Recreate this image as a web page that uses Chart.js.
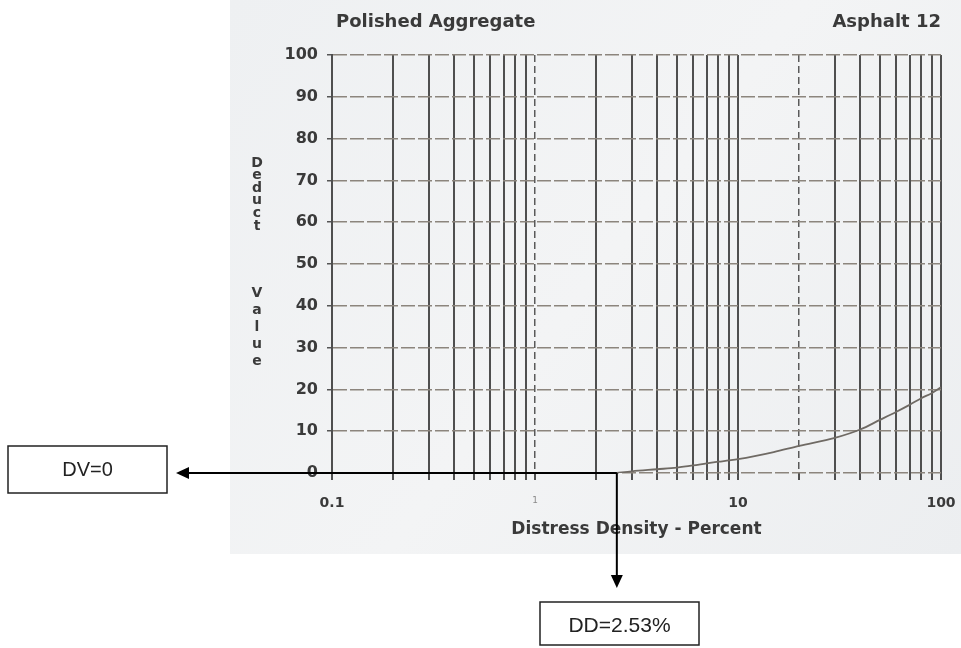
<!DOCTYPE html>
<html>
<head>
<meta charset="utf-8">
<script src="https://cdn.jsdelivr.net/npm/chart.js@4.4.1/dist/chart.umd.min.js"></script>
<style>
  html, body { margin: 0; padding: 0; background: #ffffff; }
  #wrap { width: 961px; height: 648px; position: relative; }
</style>
</head>
<body>
<div id="wrap"><canvas id="c" width="961" height="648"></canvas></div>
<script>
// Deduct-value curve: distress density (%) vs deduct value
const density = [2.53, 3, 4, 5, 6, 7, 8, 9, 10, 15, 20, 30, 40, 50, 60, 70, 80, 90, 100];
const deductValue = [0, 0.4, 0.9, 1.3, 1.8, 2.3, 2.7, 3.0, 3.3, 5.0, 6.5, 8.4, 10.4, 12.7, 14.6, 16.3, 17.9, 19.1, 20.5];

// Axis ticks
const xGridValues = [0.1, 0.2, 0.3, 0.4, 0.5, 0.6, 0.7, 0.8, 0.9,
                     1, 2, 3, 4, 5, 6, 7, 8, 9,
                     10, 20, 30, 40, 50, 60, 70, 80, 90, 100];
const xDashedValues = [1, 20];
const xTickLabels = ['0.1', '1', '10', '100'];
const yTickValues = [0, 10, 20, 30, 40, 50, 60, 70, 80, 90, 100];

// Reading taken from the curve
const ddReading = 2.53;
const dvReading = 0;

const chartTitle = 'Polished Aggregate';
const chartSubject = 'Asphalt 12';
const yTitleWords = ['Deduct', 'Value'];
const xTitle = 'Distress Density - Percent';

const INK = '#3a3a3a';
const BOLD = 'DejaVu Sans';
const GRID = '#4f4f4f';

// Paper sheet behind the chart
const paperPlugin = {
  id: 'paper',
  beforeDraw(chart) {
    const ctx = chart.ctx;
    ctx.save();
    const g = ctx.createLinearGradient(230, 0, 961, 554);
    g.addColorStop(0, '#eef0f2');
    g.addColorStop(0.5, '#f3f4f5');
    g.addColorStop(1, '#eceef0');
    ctx.fillStyle = g;
    ctx.fillRect(230, 0, 731, 554);
    ctx.restore();
  }
};

// Headings and the stacked y-axis caption
const headingPlugin = {
  id: 'headings',
  afterDraw(chart) {
    const ctx = chart.ctx;
    const area = chart.chartArea;
    ctx.save();
    ctx.fillStyle = INK;
    ctx.font = 'bold 18px "' + BOLD + '"';
    ctx.textBaseline = 'middle';
    ctx.textAlign = 'left';
    ctx.fillText(chartTitle, area.left + 4, 22);
    ctx.textAlign = 'right';
    ctx.fillText(chartSubject, area.right, 22);

    ctx.font = 'bold 14px "' + BOLD + '"';
    ctx.textAlign = 'center';
    const cx = 257;
    const starts = [163, 293];
    const steps = [12.6, 17.2];
    yTitleWords.forEach((w, wi) => {
      [...w].forEach((ch, i) => {
        ctx.fillText(ch, cx, starts[wi] + i * steps[wi]);
      });
    });
    ctx.restore();
  }
};

// Arrows from the curve reading to the value boxes
const readingPlugin = {
  id: 'reading',
  afterDraw(chart) {
    const ctx = chart.ctx;
    const px = chart.scales.x.getPixelForValue(ddReading);
    const py = chart.scales.y.getPixelForValue(dvReading);
    const dvBox = {l: 8, t: 446, w: 159, h: 47};
    const ddBox = {l: 540, t: 602, w: 159, h: 43};
    ctx.save();
    ctx.strokeStyle = '#000';
    ctx.fillStyle = '#000';
    ctx.lineWidth = 2;
    // horizontal arrow to DV box
    const tipX = dvBox.l + dvBox.w + 9;
    ctx.beginPath();
    ctx.moveTo(px, py);
    ctx.lineTo(tipX + 12, py);
    ctx.stroke();
    ctx.beginPath();
    ctx.moveTo(tipX, py);
    ctx.lineTo(tipX + 13, py - 6);
    ctx.lineTo(tipX + 13, py + 6);
    ctx.closePath();
    ctx.fill();
    // vertical arrow to DD box
    const tipY = ddBox.t - 14;
    ctx.beginPath();
    ctx.moveTo(px, py);
    ctx.lineTo(px, tipY - 12);
    ctx.stroke();
    ctx.beginPath();
    ctx.moveTo(px, tipY);
    ctx.lineTo(px - 6, tipY - 13);
    ctx.lineTo(px + 6, tipY - 13);
    ctx.closePath();
    ctx.fill();
    // boxes
    ctx.lineWidth = 1.5;
    ctx.strokeStyle = '#222';
    ctx.fillStyle = '#fff';
    [dvBox, ddBox].forEach(b => {
      ctx.fillRect(b.l, b.t, b.w, b.h);
      ctx.strokeRect(b.l, b.t, b.w, b.h);
    });
    ctx.fillStyle = '#222';
    ctx.font = '20px "Liberation Sans"';
    ctx.textAlign = 'center';
    ctx.textBaseline = 'middle';
    ctx.fillText('DV=' + dvReading, dvBox.l + dvBox.w / 2, dvBox.t + dvBox.h / 2 + 1);
    ctx.font = '21px "Liberation Sans"';
    ctx.fillText('DD=' + ddReading + '%', ddBox.l + ddBox.w / 2, ddBox.t + ddBox.h / 2 + 3);
    ctx.restore();
  }
};

const noSidePadding = scale => { scale.paddingLeft = 0; scale.paddingRight = 0; };

new Chart(document.getElementById('c'), {
  type: 'line',
  data: {
    datasets: [{
      data: density.map((d, i) => ({x: d, y: deductValue[i]})),
      borderColor: '#6f6a64',
      borderWidth: 1.8,
      pointRadius: 0,
      cubicInterpolationMode: 'monotone',
      fill: false
    }]
  },
  options: {
    responsive: false,
    animation: false,
    devicePixelRatio: 1,
    layout: { padding: { left: 230, right: 20, top: 55, bottom: 94 } },
    plugins: { legend: { display: false }, tooltip: { enabled: false } },
    scales: {
      x: {
        type: 'logarithmic',
        min: 0.1,
        max: 100,
        afterBuildTicks(scale) {
          scale.ticks = xGridValues.map(v => ({value: v}));
        },
        afterFit(scale) { scale.height = 81; noSidePadding(scale); },
        ticks: {
          autoSkip: false,
          maxRotation: 0,
          minRotation: 0,
          padding: 15,
          color: ctx => (ctx.tick && ctx.tick.value === 1) ? '#8a8a8a' : INK,
          font: ctx => (ctx.tick && ctx.tick.value === 1)
            ? {family: BOLD, size: 9, weight: 'normal'}
            : {family: BOLD, size: 14, weight: 'bold'},
          callback(value) {
            const label = xTickLabels.find(t => Math.abs(Number(t) - value) < 1e-9);
            return label === undefined ? '' : label;
          }
        },
        grid: {
          color: ctx => (ctx.tick && xDashedValues.includes(ctx.tick.value)) ? 'rgba(0,0,0,0)' : GRID,
          lineWidth: 2,
          tickLength: 7,
          tickColor: GRID,
          tickWidth: 2
        },
        border: { display: false },
        title: {
          display: true,
          text: xTitle,
          color: INK,
          font: {family: BOLD, size: 17, weight: 'bold'},
          padding: {top: 0, bottom: 14}
        }
      },
      // broken (dashed) rulings at 1 and 20
      xDash: {
        type: 'logarithmic',
        position: 'bottom',
        min: 0.1,
        max: 100,
        afterBuildTicks(scale) {
          scale.ticks = xDashedValues.map(v => ({value: v}));
        },
        afterFit(scale) { scale.height = 0; noSidePadding(scale); },
        ticks: { display: false },
        grid: { color: '#5a5a5a', lineWidth: 1.5, drawTicks: false },
        border: { display: false, dash: [7, 4] }
      },
      y: {
        min: 0,
        max: 100,
        afterBuildTicks(scale) {
          scale.ticks = yTickValues.map(v => ({value: v}));
        },
        afterFit(scale) { scale.width = 102; },
        ticks: {
          padding: 9,
          color: INK,
          font: {family: BOLD, size: 16, weight: 'bold'}
        },
        grid: {
          color: '#8c857d',
          lineWidth: 1.5,
          tickLength: 5,
          tickColor: '#555',
          tickWidth: 1.5
        },
        border: { display: true, color: GRID, width: 2, dash: [14, 3] }
      }
    }
  },
  plugins: [paperPlugin, headingPlugin, readingPlugin]
});
</script>
</body>
</html>
